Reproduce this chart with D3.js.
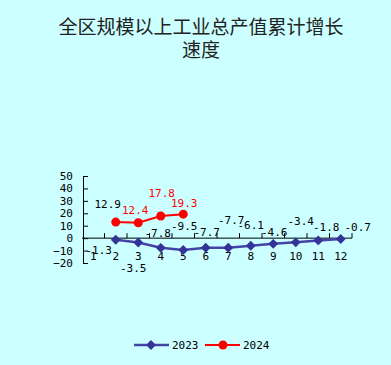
<!DOCTYPE html>
<html>
<head>
<meta charset="utf-8">
<script src="https://cdn.jsdelivr.net/npm/d3@7"></script>
<style>
  html, body { margin: 0; padding: 0; background: #ccffff; }
  svg { display: block; }
</style>
</head>
<body>
<svg id="chart" width="391" height="365"></svg>
<script>
// chart data
var categories = ["1", "2", "3", "4", "5", "6", "7", "8", "9", "10", "11", "12"];
var growth2023 = [null, -1.3, -3.5, -7.8, -9.5, -7.7, -7.7, -6.1, -4.6, -3.4, -1.8, -0.7];
var growth2024 = [null, 12.9, 12.4, 17.8, 19.3, null, null, null, null, null, null, null];
var yTicks = [-20, -10, 0, 10, 20, 30, 40, 50];
var seriesNames = ["2023", "2024"];

// label nudges (px) relative to each point, copied from the original layout
var nudge2023 = [null, [-17, 10], [-5, 26], [-3, -15], [1, -24], [1, -16], [3, -28], [0, -21], [1, -12], [5, -21], [8, -13], [17, -12]];
var nudge2024 = [null, [-8, -18], [-3, -13], [1, -23], [1, -11]];
var labelColor2024 = [null, "#000", "#ff0000", "#ff0000", "#ff0000"];

var svg = d3.select("#chart"),
    font = "'DejaVu Sans Mono', monospace",
    blue = "#333399",
    red = "#ff0000";

// title
svg.append("g").selectAll("text")
    .data(["全区规模以上工业总产值累计增长", "速度"])
    .enter().append("text")
    .attr("x", 201)
    .attr("y", function (d, i) { return 27 + i * 23; })
    .attr("dy", "0.35em")
    .attr("text-anchor", "middle")
    .style("font-family", "'Noto Sans CJK SC', sans-serif")
    .style("font-size", "19px")
    .style("fill", "#222")
    .text(function (d) { return d; });

// scales
var x = d3.scaleBand().domain(categories).range([82, 352]),
    y = d3.scaleLinear().domain([-20, 50]).range([263, 176]);

function cx(i) { return x(categories[i]) + x.bandwidth() / 2; }

// y axis
var yAxis = svg.append("g")
    .attr("transform", "translate(83,0)")
    .call(d3.axisLeft(y).tickValues(yTicks).tickSize(-5).tickPadding(10));
yAxis.select(".domain").attr("stroke", "#000");
yAxis.selectAll("line").attr("stroke", "#000");
yAxis.selectAll("text")
    .style("font-family", font)
    .style("font-size", "11px")
    .attr("fill", "#000");

// x axis at zero
var y0 = y(0);
svg.append("line")
    .attr("x1", 82).attr("x2", 352)
    .attr("y1", y0).attr("y2", y0)
    .attr("stroke", "#000");
svg.append("g").selectAll("line")
    .data(categories)
    .enter().append("line")
    .attr("x1", function (d) { return x(d) + x.bandwidth(); })
    .attr("x2", function (d) { return x(d) + x.bandwidth(); })
    .attr("y1", y0).attr("y2", y0 - 5)
    .attr("stroke", "#000");
svg.append("g").selectAll("text")
    .data(categories)
    .enter().append("text")
    .attr("x", function (d) { return x(d) + x.bandwidth() / 2; })
    .attr("y", y0 + 18)
    .attr("dy", "0.35em")
    .attr("text-anchor", "middle")
    .style("font-family", font)
    .style("font-size", "11px")
    .text(function (d) { return d; });

// lines
var line = d3.line()
    .defined(function (d) { return d != null; })
    .x(function (d, i) { return cx(i); })
    .y(function (d) { return y(d); });

svg.append("path")
    .datum(growth2023)
    .attr("d", line)
    .attr("fill", "none")
    .attr("stroke", "#4444a8")
    .attr("stroke-width", 2.5);

svg.append("path")
    .datum(growth2024)
    .attr("d", line)
    .attr("fill", "none")
    .attr("stroke", red)
    .attr("stroke-width", 2);

var diamond = d3.symbol().type(d3.symbolDiamond2).size(62);

var pts2023 = growth2023.map(function (v, i) { return {v: v, i: i}; })
    .filter(function (d) { return d.v != null; });
var pts2024 = growth2024.map(function (v, i) { return {v: v, i: i}; })
    .filter(function (d) { return d.v != null; });

svg.append("g").selectAll("path")
    .data(pts2023)
    .enter().append("path")
    .attr("d", diamond)
    .attr("transform", function (d) { return "translate(" + cx(d.i) + "," + y(d.v) + ")"; })
    .attr("fill", blue);

svg.append("g").selectAll("circle")
    .data(pts2024)
    .enter().append("circle")
    .attr("cx", function (d) { return cx(d.i); })
    .attr("cy", function (d) { return y(d.v); })
    .attr("r", 4.5)
    .attr("fill", red);

// data labels
svg.append("g").selectAll("text")
    .data(pts2023)
    .enter().append("text")
    .attr("x", function (d) { return cx(d.i) + nudge2023[d.i][0]; })
    .attr("y", function (d) { return y(d.v) + nudge2023[d.i][1]; })
    .attr("dy", "0.35em")
    .attr("text-anchor", "middle")
    .style("font-family", font)
    .style("font-size", "11px")
    .attr("fill", "#000")
    .text(function (d) { return d.v; });

svg.append("g").selectAll("text")
    .data(pts2024)
    .enter().append("text")
    .attr("x", function (d) { return cx(d.i) + nudge2024[d.i][0]; })
    .attr("y", function (d) { return y(d.v) + nudge2024[d.i][1]; })
    .attr("dy", "0.35em")
    .attr("text-anchor", "middle")
    .style("font-family", font)
    .style("font-size", "11px")
    .attr("fill", function (d) { return labelColor2024[d.i]; })
    .text(function (d) { return d.v; });

// legend
var legend = svg.append("g").attr("transform", "translate(0,345)");
var lg = legend.selectAll("g")
    .data(seriesNames)
    .enter().append("g")
    .attr("transform", function (d, i) { return "translate(" + (134 + i * 71) + ",0)"; });
lg.append("line")
    .attr("x1", 0).attr("x2", 35)
    .attr("stroke", function (d, i) { return i ? red : "#4444a8"; })
    .attr("stroke-width", function (d, i) { return i ? 2 : 2.5; });
lg.each(function (d, i) {
    var g = d3.select(this);
    if (i) {
        g.append("circle").attr("cx", 18).attr("r", 4.5).attr("fill", red);
    } else {
        g.append("path").attr("d", diamond).attr("transform", "translate(17,0)").attr("fill", blue);
    }
});
lg.append("text")
    .attr("x", 38)
    .attr("dy", "0.35em")
    .style("font-family", font)
    .style("font-size", "11px")
    .text(function (d) { return d; });
</script>
</body>
</html>
